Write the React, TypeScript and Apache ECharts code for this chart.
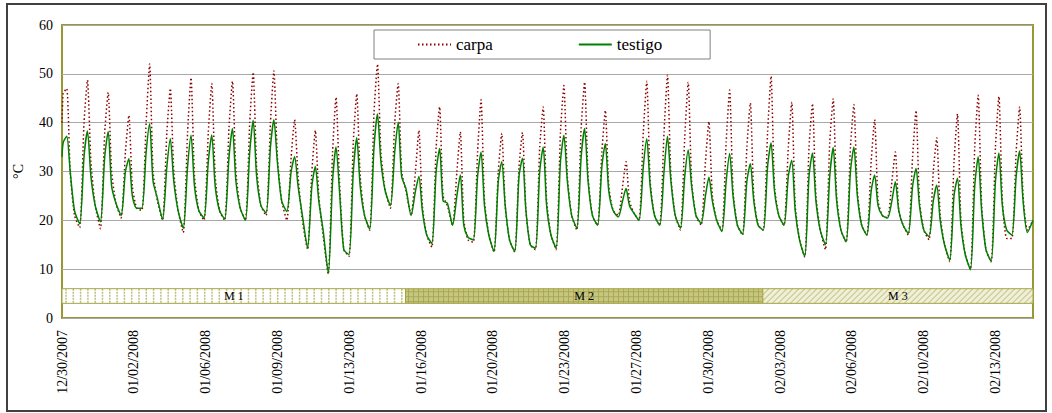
import React, { useEffect, useRef } from 'react';
import * as echarts from 'echarts';

// X tick labels (every 3.5 days)
const tickLabels = [
  '12/30/2007', '01/02/2008', '01/06/2008', '01/09/2008', '01/13/2008',
  '01/16/2008', '01/20/2008', '01/23/2008', '01/27/2008', '01/30/2008',
  '02/03/2008', '02/06/2008', '02/10/2008', '02/13/2008',
];
const labelStepHours = 83.2;
const totalHours = 1125;
const firstPeakHour = 5.5;
// sample times relative to each daily peak (hours): morning min, rise, peak, fall, evening
const cycleOffsets = [-9, -4, 0, 4, 9];

// carpa (°C) per day: [min, rise, peak, fall, evening]
const carpaDaily = [
  [40, 46, 47, 30, 21],
  [18.5, 40, 48.7, 32, 23],
  [18.3, 38, 46.2, 30, 23.5],
  [20.5, 34, 41.5, 27, 22.5],
  [22, 40, 52, 30, 24],
  [20, 38, 47, 30, 22],
  [17.5, 38, 49.2, 29, 22],
  [20, 38, 48, 29, 22],
  [20, 39, 48.5, 30, 22.5],
  [20, 40, 50.3, 31, 23],
  [21, 40, 50.6, 33, 24],
  [20, 33, 40.6, 29, 20],
  [14, 30, 38.4, 25, 17],
  [9, 34, 45.2, 28, 14],
  [12.6, 36, 45.9, 29, 21],
  [18, 42, 52, 34, 26],
  [22.5, 40, 48, 30, 26],
  [21, 30, 38.4, 23, 17],
  [14.5, 35, 43.2, 25, 23],
  [19, 30, 38.1, 20, 16],
  [15.5, 34, 44.7, 24, 17],
  [13.5, 30, 37.8, 23, 16],
  [13.5, 31, 38, 22, 15],
  [14, 35, 43.2, 24, 17],
  [14, 38, 47.6, 29, 21],
  [18, 39, 48.3, 29, 21],
  [19, 34, 42.5, 27, 22],
  [21, 27, 32, 24, 21.5],
  [20, 38, 48.5, 28, 21],
  [19, 38, 49.7, 29, 21],
  [18, 37, 48.3, 28, 21],
  [19, 32, 40.2, 25, 20],
  [18, 36, 46.7, 26, 19],
  [17, 35, 44, 25, 19],
  [18, 38, 49.5, 27, 21],
  [19, 35, 44.2, 23, 16],
  [12.5, 35, 43.9, 25, 18],
  [14, 36, 44.9, 25, 18],
  [15.5, 35, 43.7, 26, 19],
  [17, 32, 40.6, 24, 21],
  [20.5, 28, 34, 22, 19],
  [17, 33, 42.5, 24, 18],
  [16, 30, 36.9, 21, 15],
  [11.5, 32, 41.8, 20, 13],
  [10, 35, 45.6, 23, 14],
  [11.5, 35, 45.4, 24, 16.3],
  [16.3, 34, 43.2, 25, 18],
];
const carpaEnd = 20;

// testigo (°C) per day: [min, rise, peak, fall, evening]
const testigoDaily = [
  [33, 36, 37.2, 30, 22],
  [19.3, 33, 38.3, 29, 23],
  [19.7, 33, 38.2, 27, 23.5],
  [21, 30, 32.6, 25, 22.5],
  [22.5, 34, 39.8, 28, 24.5],
  [20.2, 31, 36.7, 28, 22],
  [18.4, 31, 37.4, 27, 22],
  [20.5, 32, 37.5, 27, 22],
  [20.3, 33, 38.8, 28, 22.5],
  [20, 34, 40.5, 29, 23],
  [21.5, 35, 40.6, 32, 24],
  [21.8, 30, 33, 27, 21],
  [14.3, 27, 31, 24, 18],
  [9.2, 28, 35, 26, 14],
  [13, 30, 36.9, 27, 21],
  [18.2, 35, 41.8, 32, 26],
  [23, 34, 40.1, 29, 26.5],
  [21, 26, 29, 22, 17],
  [15.3, 30, 34.7, 24, 23.5],
  [19, 25, 29.3, 19, 16.5],
  [16, 29, 34, 23, 17],
  [13.6, 28, 32, 23, 16],
  [13.6, 29, 32.7, 22, 15],
  [14.3, 30, 35, 23, 17],
  [14.3, 32, 37.4, 28, 21],
  [18.4, 33, 38.8, 28, 21],
  [19, 31, 35.7, 26, 22],
  [20.7, 24, 26.5, 23, 21.5],
  [20, 31, 36.7, 27, 21],
  [19, 30, 37.2, 28, 21],
  [18.4, 29, 34.4, 27, 21],
  [19.4, 25, 28.8, 24, 20],
  [17.7, 28, 33.7, 25, 19],
  [17.2, 28, 31.6, 24, 19],
  [18, 31, 35.9, 26, 21],
  [19, 29, 32.3, 22, 16],
  [12.6, 29, 33.8, 24, 18],
  [15, 29, 34.9, 24, 18],
  [15.6, 30, 35, 25, 19],
  [17, 26, 29.3, 23, 21],
  [20.5, 24, 27.9, 22, 19],
  [17.3, 27, 30.6, 23, 18],
  [16.7, 24, 27.2, 20, 15],
  [11.9, 25, 28.6, 19, 13],
  [9.9, 27, 33, 22, 14],
  [11.6, 28, 33.8, 23, 18],
  [17, 29, 34.2, 24, 17.5],
];
const testigoEnd = 20;

// treatment periods (hours from start)
const phaseNames = ['M 1', 'M 2', 'M 3'];
const phaseStarts = [0, 398, 812];
const phaseEnds = [398, 812, 1125];
const phaseLow = 3;
const phaseHigh = 6;

function buildSeries(daily: number[][], endVal: number): number[][] {
  const pts: number[][] = [];
  daily.forEach((row, k) => {
    const peak = firstPeakHour + 24 * k;
    row.forEach((v, i) => {
      pts.push([Math.max(0, peak + cycleOffsets[i]), v]);
    });
  });
  pts.push([totalHours, endVal]);
  return pts;
}

const FONT = 'Liberation Serif';

export default function App() {
  const ref = useRef<HTMLDivElement>(null);
  useEffect(() => {
    if (!ref.current) return;
    const chart = echarts.init(ref.current, null, { renderer: 'svg' });
    const fills = ['#ffffff', '#c6c680', '#f0f0da'];
    const option: any = {
      animation: false,
      backgroundColor: '#ffffff',
      textStyle: { fontFamily: FONT },
      graphic: [
        {
          type: 'rect',
          shape: { x: 7, y: 4, width: 1039, height: 407 },
          style: { fill: 'none', stroke: '#404040', lineWidth: 2 },
          silent: true,
        },
      ],
      grid: {
        left: 62, right: 19, top: 25, bottom: 95,
        show: true, borderColor: '#999933', borderWidth: 2, backgroundColor: 'transparent',
      },
      legend: {
        data: ['carpa', 'testigo'],
        left: 374, top: 30,
        padding: [6, 48, 6, 43],
        itemGap: 85,
        itemWidth: 33, itemHeight: 14,
        borderColor: '#808080', borderWidth: 1,
        backgroundColor: '#ffffff',
        itemStyle: { opacity: 0, borderWidth: 0 },
        textStyle: { fontFamily: FONT, fontSize: 17, color: '#000' },
      },
      xAxis: {
        type: 'value',
        min: 0, max: totalHours, interval: labelStepHours,
        axisLine: { show: false },
        axisTick: { show: false },
        splitLine: { show: false },
        axisLabel: {
          rotate: 90,
          margin: 12,
          showMaxLabel: false,
          fontFamily: FONT, fontSize: 14, color: '#000',
          formatter: (v: number) => {
            const i = v / labelStepHours;
            const r = Math.round(i);
            return Math.abs(i - r) < 0.01 && r < tickLabels.length ? tickLabels[r] : '';
          },
        },
      },
      yAxis: {
        type: 'value',
        min: 0, max: 60, interval: 10,
        name: '°C', nameLocation: 'middle', nameGap: 37, nameRotate: 90,
        nameTextStyle: { fontFamily: FONT, fontSize: 14, color: '#000' },
        axisLine: { show: false },
        axisTick: { show: false },
        axisLabel: { fontFamily: FONT, fontSize: 14, color: '#000', margin: 9 },
        splitLine: {
          show: true,
          lineStyle: { color: '#a8a8a8', width: 1.2 },
        },
      },
      series: [
        {
          name: 'carpa', type: 'line', data: buildSeries(carpaDaily, carpaEnd),
          symbol: 'none', z: 3, smooth: 0.2,
          lineStyle: { color: '#8b0000', width: 1.5, type: [1.5, 2.5] },
          itemStyle: { color: '#8b0000' },
        },
        {
          name: 'testigo', type: 'line', data: buildSeries(testigoDaily, testigoEnd),
          symbol: 'none', z: 4, smooth: 0.25,
          lineStyle: { color: '#008000', width: 1.5 },
          itemStyle: { color: '#008000' },
        },
        {
          type: 'custom', name: 'phases', z: 2,
          data: phaseStarts.map((s, i) => [s, phaseEnds[i]]),
          encode: { x: [0, 1] },
          renderItem: (params: any, api: any) => {
            const i = params.dataIndex;
            const p0 = api.coord([api.value(0), phaseHigh]);
            const p1 = api.coord([api.value(1), phaseLow]);
            const x0 = p0[0], y0 = p0[1], x1 = p1[0], y1 = p1[1];
            const w = x1 - x0, h = y1 - y0;
            const children: any[] = [
              { type: 'rect', shape: { x: x0, y: y0, width: w, height: h }, style: { fill: fills[i] } },
            ];
            if (i === 0) {
              for (let x = x0 + 4; x < x1; x += 7.3) {
                children.push({ type: 'line', shape: { x1: x, y1: y0, x2: x, y2: y1 }, style: { stroke: '#bdbd80', lineWidth: 1.5, lineDash: [2, 1] } });
              }
            } else if (i === 1) {
              for (let x = x0 + 3; x < x1; x += 5) {
                children.push({ type: 'line', shape: { x1: x, y1: y0, x2: x, y2: y1 }, style: { stroke: '#a2a24c', lineWidth: 0.8 } });
              }
              for (let y = y0 + 3; y < y1; y += 5) {
                children.push({ type: 'line', shape: { x1: x0, y1: y, x2: x1, y2: y }, style: { stroke: '#a2a24c', lineWidth: 0.8 } });
              }
            } else {
              for (let a = x0 - h; a < x1; a += 6) {
                let sx = a, sy = y1, ex = a + h, ey = y0;
                if (sx < x0) { sy = y1 - (x0 - sx); sx = x0; }
                if (ex > x1) { ey = y0 + (ex - x1); ex = x1; }
                if (ex > sx) {
                  children.push({ type: 'line', shape: { x1: sx, y1: sy, x2: ex, y2: ey }, style: { stroke: '#cdcd98', lineWidth: 1.3 } });
                }
              }
            }
            children.push({ type: 'rect', shape: { x: x0, y: y0, width: w, height: h }, style: { fill: 'none', stroke: '#a5a545', lineWidth: 1 } });
            children.push({
              type: 'text',
              style: {
                text: phaseNames[i], x: x0 + w / 2, y: y0 + h / 2,
                align: 'center', verticalAlign: 'middle',
                fontFamily: FONT, fontSize: 12, fill: '#000',
              },
            });
            return { type: 'group', children };
          },
        },
      ],
    };
    chart.setOption(option);
    return () => chart.dispose();
  }, []);
  return <div ref={ref} style={{ position: 'absolute', left: 0, top: 0, width: 1052, height: 413 }} />;
}
